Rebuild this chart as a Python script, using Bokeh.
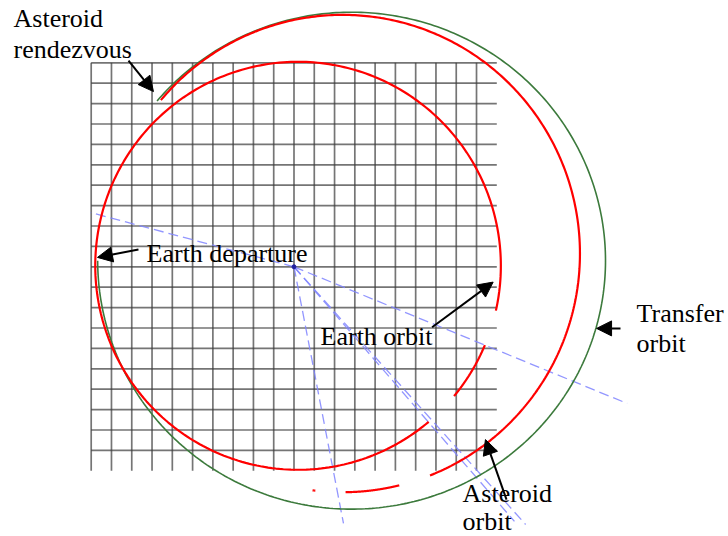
import numpy as np
from bokeh.plotting import figure
from bokeh.models import Range1d, Arrow, NormalHead, ColumnDataSource
from bokeh.core.properties import value
from bokeh.embed import file_html
from bokeh.resources import INLINE

# ---- data (units: AU, Sun at origin, y up) ----
grid_x = [-1.0, -0.9, -0.8, -0.7, -0.6, -0.5, -0.4, -0.3, -0.2, -0.1,
          0.0, 0.1, 0.2, 0.3, 0.4, 0.5, 0.6, 0.7, 0.8, 0.9]
grid_y = [-0.9, -0.8, -0.7, -0.6, -0.5, -0.4, -0.3, -0.2, -0.1, 0.0,
          0.1, 0.2, 0.3, 0.4, 0.5, 0.6, 0.7, 0.8, 0.9, 1.0]
grid_extent = [-1.0, 1.0]

earth_center = [0.02, 0.005]
earth_radius = 1.0
earth_arcs_deg = [[-12.7, 310.1], [-39.7, -22.9]]

asteroid_center = [0.24, 0.065]
asteroid_radius = 1.17
asteroid_arcs_deg = [[140.0, -68.4], [-76.2, -89.3], [-96.6, -97.3]]

transfer_center = [0.284, 0.03]
transfer_a = 1.252
transfer_b = 1.218
transfer_arc_deg = [180.0, 500.0]

ray_end_x = [-1.003, 1.643, 0.244, 1.142, 1.087]
ray_end_y = [0.266, -0.670, -1.258, -1.263, -1.248]

label_text = ["Asteroid", "rendezvous", "Earth departure", "Earth orbit",
              "Transfer", "orbit", "Asteroid", "orbit"]
label_x = [-1.383, -1.383, -0.727, 0.131, 1.689, 1.689, 0.831, 0.831]
label_y = [1.173, 1.021, 0.021, -0.386, -0.273, -0.420, -1.155, -1.293]

arrow_x0 = [-0.816, -0.767, 0.681, 1.610, 1.048]
arrow_y0 = [1.011, 0.085, -0.296, -0.302, -1.141]
arrow_x1 = [-0.693, -0.969, 0.982, 1.492, 0.944]
arrow_y1 = [0.859, 0.046, -0.075, -0.302, -0.847]


def arc(cx, cy, rx, ry, a0, a1, n=240):
    t = np.radians(np.linspace(a0, a1, n))
    return list(cx + rx * np.cos(t)), list(cy + ry * np.sin(t))


p = figure(width=728, height=536, output_backend="svg", toolbar_location=None,
           x_range=Range1d(-1.4472, 2.1425), y_range=Range1d(-1.3221, 1.3054),
           min_border=0, outline_line_color=None)
p.axis.visible = False
p.xgrid.visible = False
p.ygrid.visible = False
p.background_fill_color = "white"
p.border_fill_color = "white"

# grid
p.segment(x0=grid_x, y0=[grid_extent[0]] * len(grid_x), x1=grid_x, y1=[grid_extent[1]] * len(grid_x),
          line_color="#3a3a3a", line_alpha=0.7, line_width=1.7)
p.segment(x0=[grid_extent[0]] * len(grid_y), y0=grid_y, x1=[grid_extent[1]] * len(grid_y), y1=grid_y,
          line_color="#3a3a3a", line_alpha=0.7, line_width=1.7)

# rays from the Sun
p.segment(x0=[0.0] * len(ray_end_x), y0=[0.0] * len(ray_end_y), x1=ray_end_x, y1=ray_end_y,
          line_color="#7f84ff", line_alpha=0.85, line_width=1.3, line_dash="10 5")
p.scatter(x=[0.0], y=[0.0], size=4, color="#2020a0")

# transfer orbit
tx, ty = arc(transfer_center[0], transfer_center[1], transfer_a, transfer_b,
             transfer_arc_deg[0], transfer_arc_deg[1], 400)
p.line(tx, ty, line_color="#3c7a3c", line_width=1.6)

# Earth orbit
for a0, a1 in earth_arcs_deg:
    ex, ey = arc(earth_center[0], earth_center[1], earth_radius, earth_radius, a0, a1, 300)
    p.line(ex, ey, line_color="#ff0000", line_width=2.2)

# asteroid orbit
for a0, a1 in asteroid_arcs_deg:
    ax, ay = arc(asteroid_center[0], asteroid_center[1], asteroid_radius, asteroid_radius, a0, a1, 300)
    p.line(ax, ay, line_color="#ff0000", line_width=2.2)

# arrows
for x0, y0, x1, y1 in zip(arrow_x0, arrow_y0, arrow_x1, arrow_y1):
    p.add_layout(Arrow(end=NormalHead(size=15, fill_color="black", line_color="black"),
                       x_start=x0, y_start=y0, x_end=x1, y_end=y1,
                       line_color="black", line_width=2))

# labels
src = ColumnDataSource(dict(x=label_x, y=label_y, t=label_text))
p.text(x="x", y="y", text="t", source=src, text_font=value("Liberation Serif"),
       text_font_size="26px", text_color="black", text_baseline="alphabetic", text_align="left",
       y_offset=-9)

open("out.html", "w").write(file_html(p, INLINE))
